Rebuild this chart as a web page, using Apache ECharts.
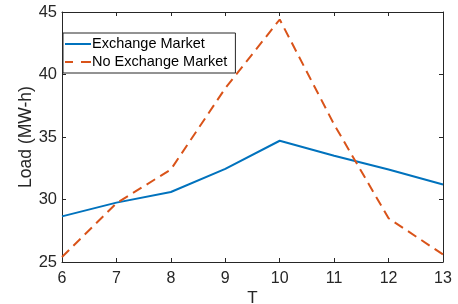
<!DOCTYPE html>
<html>
<head>
<meta charset="utf-8">
<script src="https://cdn.jsdelivr.net/npm/echarts@6/dist/echarts.min.js"></script>
<style>
  html, body { margin: 0; padding: 0; background: #fff; }
  #chart { width: 458px; height: 304px; }
</style>
</head>
<body>
<div id="chart"></div>
<script>
// 时段
const hours = [6, 7, 8, 9, 10, 11, 12, 13]
// 负荷数据
const exchangeLoad = [28.65, 29.75, 30.6, 32.45, 34.7, 33.5, 32.4, 31.2]
const noExchangeLoad = [25.4, 29.7, 32.4, 38.9, 44.4, 36.0, 28.5, 25.6]
const seriesNames = ['Exchange Market', 'No Exchange Market']

const axisColor = '#262626'
const font = 'Liberation Sans, Arial, sans-serif'

let chart = echarts.init(document.getElementById('chart'))

const toPairs = (vals) => hours.map((h, i) => [h, vals[i]])

// 四周框线 + 向内刻度
const boxAxis = (extra) => Object.assign({
  axisLine: { show: true, lineStyle: { color: axisColor, width: 1 } },
  axisTick: { show: true, inside: true, length: 4, lineStyle: { color: axisColor } },
  splitLine: { show: false },
  nameMoveOverlap: false
}, extra)

let option = {
  animation: false,
  textStyle: { fontFamily: font, color: axisColor },
  grid: { left: 62, right: 15, top: 12, bottom: 42, outerBoundsMode: 'none' },
  legend: {
    orient: 'vertical',
    left: 63,
    top: 33,
    data: [
      { name: seriesNames[0], icon: 'path://M0,0h26v2h-26z' },
      { name: seriesNames[1], icon: 'path://M0,0h8v2h-8zM16,0h10v2h-10z' }
    ],
    itemWidth: 26,
    itemHeight: 2,
    itemGap: 2,
    padding: [3, 8, 3, 2],
    borderColor: axisColor,
    borderWidth: 1,
    backgroundColor: '#fff',
    textStyle: { fontSize: 14.5, color: '#000', lineHeight: 16, padding: [0, 0, 0, -4] }
  },
  xAxis: [
    boxAxis({
      type: 'value', min: 6, max: 13, interval: 1,
      name: 'T', nameLocation: 'middle', nameGap: 28,
      nameTextStyle: { fontSize: 17, color: axisColor, verticalAlign: 'top' },
      axisLabel: { fontSize: 16, color: axisColor, margin: 9 }
    }),
    boxAxis({
      type: 'value', min: 6, max: 13, interval: 1, position: 'top',
      axisLabel: { show: false }
    })
  ],
  yAxis: [
    boxAxis({
      type: 'value', min: 25, max: 45, interval: 5,
      name: 'Load (MW-h)', nameLocation: 'middle', nameGap: 27,
      nameTextStyle: { fontSize: 17.5, color: axisColor },
      axisLabel: { fontSize: 16.5, color: axisColor, margin: 5 }
    }),
    boxAxis({
      type: 'value', min: 25, max: 45, interval: 5, position: 'right',
      axisLabel: { show: false }
    })
  ],
  series: [
    {
      name: seriesNames[0],
      type: 'line',
      data: toPairs(exchangeLoad),
      symbol: 'none',
      lineStyle: { color: '#0072BD', width: 2 },
      itemStyle: { color: '#0072BD' }
    },
    {
      name: seriesNames[1],
      type: 'line',
      data: toPairs(noExchangeLoad),
      symbol: 'none',
      lineStyle: { color: '#D95319', width: 2, type: [10, 6] },
      itemStyle: { color: '#D95319' }
    }
  ]
}

chart.setOption(option)
</script>
</body>
</html>
